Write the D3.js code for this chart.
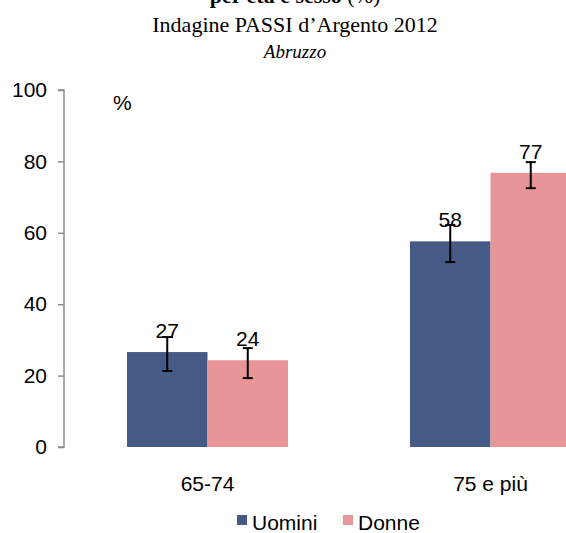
<!DOCTYPE html>
<html>
<head>
<meta charset="utf-8">
<script src="https://cdn.jsdelivr.net/npm/d3@7"></script>
<style>
  html, body { margin: 0; padding: 0; background: #fff; }
  svg { display: block; }
</style>
</head>
<body>
<svg id="chart" width="566" height="533"></svg>
<script>
const categories = ["65-74", "75 e più"];
const seriesNames = ["Uomini", "Donne"];
const valuesUomini = [26.6, 57.6];
const valuesDonne = [24.3, 76.8];
const ciLowUomini = [21.3, 51.8];
const ciHighUomini = [30.8, 62.2];
const ciLowDonne = [19.3, 72.5];
const ciHighDonne = [27.7, 79.8];
const yTicks = [0, 20, 40, 60, 80, 100];
const colors = ["#465a86", "#e89597"];

const series = [
  { name: seriesNames[0], values: valuesUomini, lo: ciLowUomini, hi: ciHighUomini, color: colors[0] },
  { name: seriesNames[1], values: valuesDonne, lo: ciLowDonne, hi: ciHighDonne, color: colors[1] }
];

const svg = d3.select("#chart");
const axisX = 64;
const sans = "Arial, 'Liberation Sans', sans-serif";
const fs = 21;

const y = d3.scaleLinear().domain([0, 100]).range([447, 90]);
const x0 = d3.scaleBand().domain(categories).range([66, 632]).paddingInner(0.431).paddingOuter(0.2155);
const x1 = d3.scaleBand().domain(seriesNames).range([0, x0.bandwidth()]);

// Title
const title = svg.append("g").attr("font-family", "'Liberation Serif', 'Times New Roman', serif").attr("fill", "#000").attr("text-anchor", "middle");
const t1 = title.append("text").attr("x", 295).attr("y", 3).attr("font-size", 22);
t1.append("tspan").attr("font-weight", "bold").text("per età e sesso ");
t1.append("tspan").text("(%)");
title.append("text").attr("x", 295).attr("y", 32).attr("font-size", 22).text("Indagine PASSI d’Argento 2012");
title.append("text").attr("x", 295).attr("y", 58).attr("font-size", 19).attr("font-style", "italic").text("Abruzzo");

// Y axis
const yAxis = d3.axisLeft(y).tickValues(yTicks).tickSize(6).tickPadding(11).tickFormat(d3.format("d"));
const gy = svg.append("g").attr("transform", `translate(${axisX},0)`).call(yAxis);
gy.select(".domain").attr("stroke", "#8c8c8c").attr("stroke-width", 1.5).attr("d", `M-6,${y(100)}H0V${y(0)}H-6`);
gy.selectAll(".tick line").attr("stroke", "#8c8c8c").attr("stroke-width", 1.5);
gy.selectAll(".tick text").attr("font-family", sans).attr("font-size", fs).attr("fill", "#000");

// % label
svg.append("text").attr("x", 113).attr("y", 110).attr("font-family", sans).attr("font-size", fs).text("%");

// Bars
categories.forEach((c, i) => {
  series.forEach(s => {
    const bx = x0(c) + x1(s.name);
    svg.append("rect")
      .attr("x", bx).attr("y", y(s.values[i]))
      .attr("width", x1.bandwidth()).attr("height", y(0) - y(s.values[i]))
      .attr("fill", s.color);
  });
});
// Labels and error bars
categories.forEach((c, i) => {
  series.forEach(s => {
    const cx = x0(c) + x1(s.name) + x1.bandwidth() / 2;
    svg.append("text")
      .attr("x", cx).attr("y", y(s.values[i]) - 14)
      .attr("text-anchor", "middle")
      .attr("font-family", sans).attr("font-size", fs)
      .text(Math.round(s.values[i]));
    const g = svg.append("g").attr("stroke", "#000").attr("stroke-width", 2);
    g.append("line").attr("x1", cx).attr("x2", cx).attr("y1", y(s.hi[i])).attr("y2", y(s.lo[i]));
    g.append("line").attr("x1", cx - 5).attr("x2", cx + 5).attr("y1", y(s.hi[i])).attr("y2", y(s.hi[i]));
    g.append("line").attr("x1", cx - 5).attr("x2", cx + 5).attr("y1", y(s.lo[i])).attr("y2", y(s.lo[i]));
  });
});

// Category labels
categories.forEach(c => {
  svg.append("text")
    .attr("x", x0(c) + x0.bandwidth() / 2).attr("y", 491)
    .attr("text-anchor", "middle")
    .attr("font-family", sans).attr("font-size", fs)
    .text(c);
});

// Legend
const legendX = [237, 343];
series.forEach((s, i) => {
  svg.append("rect").attr("x", legendX[i]).attr("y", 515).attr("width", 10).attr("height", 10).attr("fill", s.color);
  svg.append("text").attr("x", legendX[i] + 15).attr("y", 530)
    .attr("font-family", sans).attr("font-size", fs)
    .text(s.name);
});
</script>
</body>
</html>
